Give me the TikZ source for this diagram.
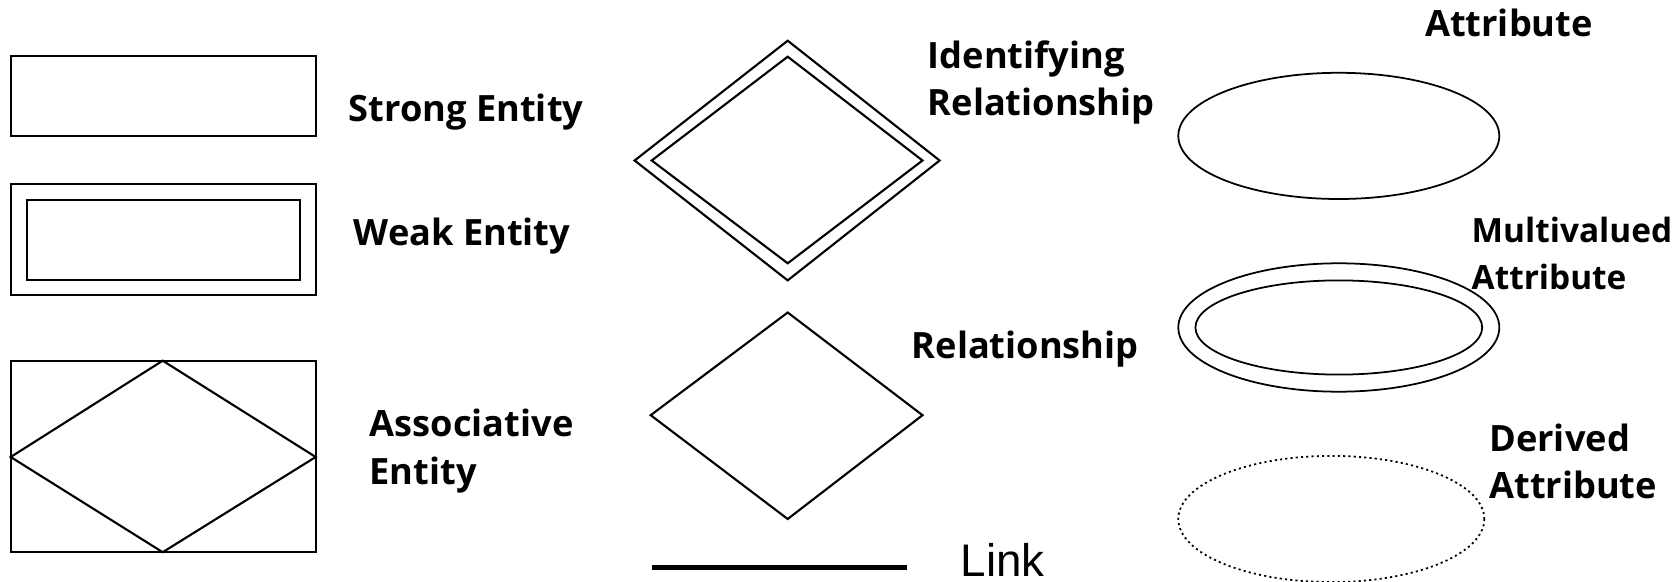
\documentclass[tikz,border=0pt]{standalone}
\usepackage{fontspec}
\setmainfont{Open Sans}
\newfontfamily\linkfont{Liberation Sans}
\begin{document}
\begin{tikzpicture}[x=0.01cm, y=-0.01cm, line join=miter,
    outline/.style={line width=0.6pt},
    oval/.style={line width=0.5pt},
    lbl/.style={anchor=base west, inner sep=0pt, align=left,
      font=\fontsize{10.3}{13.4}\selectfont\bfseries}]
  \useasboundingbox (0,0) rectangle (1678,582);
  % entities
  \draw[outline] (10.7,55.6) rectangle (315.7,135.9);
  \node[lbl] (strong) at (348,122) {Strong Entity};
  \draw[outline] (10.7,184) rectangle (315.7,295.4);
  \draw[outline] (26.8,200) rectangle (299.7,280.4);
  \node[lbl] (weak) at (353,246) {Weak Entity};
  \draw[outline] (10.7,360.7) rectangle (315.7,552.2);
  \draw[outline] (162.7,360.7) -- (10.7,457) -- (162.7,552.2) -- (315.7,457) -- cycle;
  \node[lbl] (assoc) at (369,484) {Associative\\Entity};
  % relationships
  \draw[outline] (787.7,40.7) -- (634.6,160.5) -- (787.7,280.4) -- (939.6,160.5) -- cycle;
  \draw[outline] (787.7,56.7) -- (651.7,160.5) -- (787.7,263.3) -- (922.5,160.5) -- cycle;
  \node[lbl] (ident) at (927,115.6) {Identifying\\Relationship};
  \draw[outline] (787.7,312.5) -- (650.7,415.2) -- (787.7,519) -- (922.5,415.2) -- cycle;
  \node[lbl] (rel) at (911,358.5) {Relationship};
  \coordinate (linkA) at (651.7,567.2);
  \coordinate (linkB) at (906.5,567.2);
  \draw[line width=1.5pt] (linkA) -- (linkB);
  \node[anchor=base west, inner sep=0pt, font=\linkfont\fontsize{13}{15}\selectfont] (link) at (960,576) {Link};
  % attributes
  \node[lbl] (attr) at (1424.4,36.4) {Attribute};
  \draw[oval] (1338.8,135.9) ellipse [x radius=160.5, y radius=63.1];
  \node[lbl, font=\fontsize{9.5}{13.4}\selectfont\bfseries] (multi) at (1471,290) {Multivalued\\Attribute};
  \draw[oval] (1338.8,327.5) ellipse [x radius=160.5, y radius=64.2];
  \draw[oval] (1338.8,327.5) ellipse [x radius=143.4, y radius=47.1];
  \node[lbl] (derived) at (1488.6,498.7) {Derived\\Attribute};
  \draw[oval, dash pattern=on 0.6pt off 0.9pt] (1331.3,519) ellipse [x radius=153, y radius=63.1];
\end{tikzpicture}
\end{document}
